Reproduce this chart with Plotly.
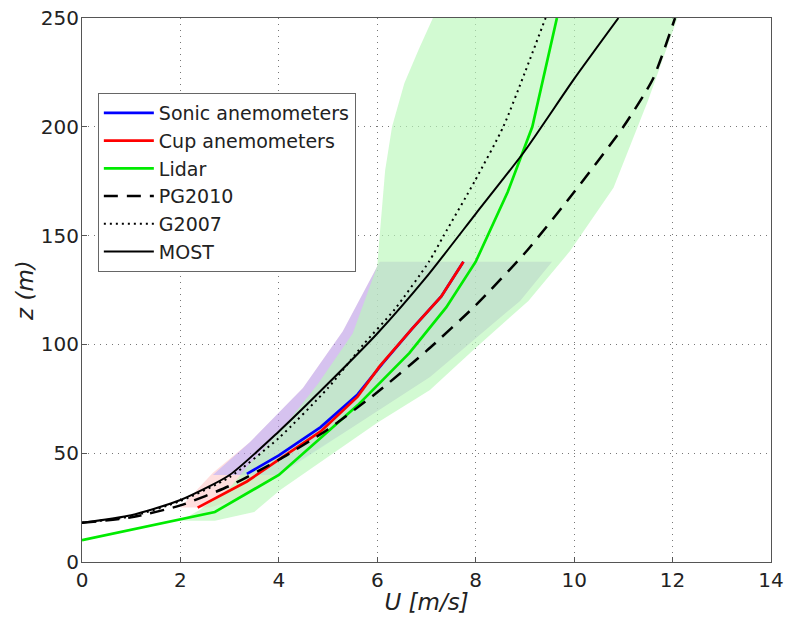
import plotly.graph_objects as go

# ---------------- data ----------------
# Measured profiles
sonic_U = [3.35, 4.0, 4.85, 5.6, 6.1, 6.7, 7.3, 7.75]
sonic_z = [40.5, 49, 62, 77, 91, 107, 122, 138]

cup_U = [2.35, 3.35, 4.0, 4.85, 5.6, 6.05, 6.7, 7.3, 7.75]
cup_z = [25, 37, 47, 60, 76, 90, 107, 122, 138]

lidar_U = [0, 2.7, 4.0, 5.6, 6.65, 7.4, 8.0, 8.65, 9.15, 9.65]
lidar_z = [10, 23, 40, 72, 96, 117, 138, 170, 200, 250]

# Model profiles
pg2010_U = [0, 1, 2, 3, 4, 5, 6, 7, 8, 9, 10, 11, 11.6, 12.05]
pg2010_z = [18, 20.5, 26, 35, 47, 61, 78, 97, 118, 142, 170, 200, 222, 250]

g2007_U = [0, 1, 2, 3, 4, 5, 5.72, 6.35, 7.05, 7.35, 7.98, 8.56, 9.0, 9.42]
g2007_z = [18, 21, 28, 39, 57, 80, 100, 116, 138, 150, 175, 200, 225, 250]

most_U = [0, 1, 2, 3, 4, 5, 6, 7, 8, 9, 10, 10.9]
most_z = [18, 21.5, 28.5, 40, 60, 82, 105, 131, 160, 189, 222, 250]

# Spread bands (left edge bottom->top, right edge bottom->top)
cup_band_left_U = [2.0, 2.66, 3.41, 4.23, 4.49, 5.3, 6.05]
cup_band_left_z = [25, 41, 55, 74, 80, 106, 138]
cup_band_right_U = [2.6, 3.3, 4.3, 5.5, 7.07, 8.9, 9.55]
cup_band_right_z = [25, 30, 45, 62, 85, 120, 138]

sonic_band_left_U = [2.66, 3.41, 4.23, 4.49, 5.3, 6.05]
sonic_band_left_z = [40, 55, 74, 80, 106, 138]
sonic_band_right_U = [4.0, 5.5, 7.07, 8.9, 9.55]
sonic_band_right_z = [40, 62, 85, 120, 138]

lidar_band_left_U = [2.0, 2.4, 3.0, 3.4, 4.1, 4.8, 5.5, 6.0, 6.03, 6.08, 6.16, 6.3, 6.55, 6.85, 7.13]
lidar_band_left_z = [19, 24, 34, 45, 62, 82, 105, 136, 145, 160, 180, 200, 220, 236, 250]
lidar_band_right_U = [2.7, 3.5, 4.02, 6.0, 7.07, 8.03, 9.07, 9.92, 10.8, 11.5, 12.1]
lidar_band_right_z = [19, 23, 33, 64, 79, 99, 120, 143, 172, 212, 250]

x_ticks = [0, 2, 4, 6, 8, 10, 12, 14]
y_ticks = [0, 50, 100, 150, 200, 250]

FONT = "DejaVu Sans"

fig = go.Figure()


def band(lu, lz, ru, rz, color):
    xs = list(lu) + list(reversed(ru))
    ys = list(lz) + list(reversed(rz))
    fig.add_trace(go.Scatter(x=xs, y=ys, mode="lines", fill="toself",
                             fillcolor=color, line=dict(width=0),
                             showlegend=False, hoverinfo="skip"))


band(cup_band_left_U, cup_band_left_z, cup_band_right_U, cup_band_right_z,
     "rgba(255,0,0,0.13)")
band(sonic_band_left_U, sonic_band_left_z, sonic_band_right_U, sonic_band_right_z,
     "rgba(173,165,255,0.5)")
band(lidar_band_left_U, lidar_band_left_z, lidar_band_right_U, lidar_band_right_z,
     "rgba(186,248,186,0.65)")

fig.add_trace(go.Scatter(x=sonic_U, y=sonic_z, mode="lines", name="Sonic anemometers",
                         line=dict(color="rgb(0,0,255)", width=2.7)))
fig.add_trace(go.Scatter(x=cup_U, y=cup_z, mode="lines", name="Cup anemometers",
                         line=dict(color="rgb(255,0,0)", width=2.7)))
fig.add_trace(go.Scatter(x=lidar_U, y=lidar_z, mode="lines", name="Lidar",
                         line=dict(color="rgb(0,235,0)", width=2.7)))
fig.add_trace(go.Scatter(x=pg2010_U, y=pg2010_z, mode="lines", name="PG2010",
                         line=dict(color="black", width=2.5, dash="14px,9px",
                                   shape="spline", smoothing=0.6)))
fig.add_trace(go.Scatter(x=g2007_U, y=g2007_z, mode="lines", name="G2007",
                         line=dict(color="black", width=2, dash="2px,4px",
                                   shape="spline", smoothing=0.6)))
fig.add_trace(go.Scatter(x=most_U, y=most_z, mode="lines", name="MOST",
                         line=dict(color="black", width=2,
                                   shape="spline", smoothing=0.6)))

axis_common = dict(
    showgrid=True, gridcolor="#777777", griddash="1px,5px", gridwidth=1.2,
    zeroline=False, showline=True, linecolor="#555555", linewidth=1,
    mirror=True, ticks="inside", ticklen=5, tickcolor="#555555",
    tickfont=dict(family=FONT, size=20, color="#222222"),
    automargin=False,
)

fig.update_layout(
    width=785, height=621,
    margin=dict(l=82, r=14, t=18, b=59),
    paper_bgcolor="white", plot_bgcolor="white",
    xaxis=dict(range=[0, 14], tickvals=x_ticks, ticklabelstandoff=0,
               title=dict(text="<i>U [m/s]</i>", standoff=2,
                          font=dict(family=FONT, size=23, color="#222222")),
               **axis_common),
    yaxis=dict(range=[0, 250], tickvals=y_ticks, ticklabelstandoff=-2,
               title=dict(text="<i>z (m)</i>", standoff=0,
                          font=dict(family=FONT, size=23, color="#222222")),
               **axis_common),
    legend=dict(x=0.023, y=0.862, xanchor="left", yanchor="top",
                bgcolor="white", bordercolor="#666666", borderwidth=1,
                font=dict(family=FONT, size=19, color="#222222"),
                itemwidth=50, tracegroupgap=0),
    showlegend=True,
)

fig.write_html("out.html")
